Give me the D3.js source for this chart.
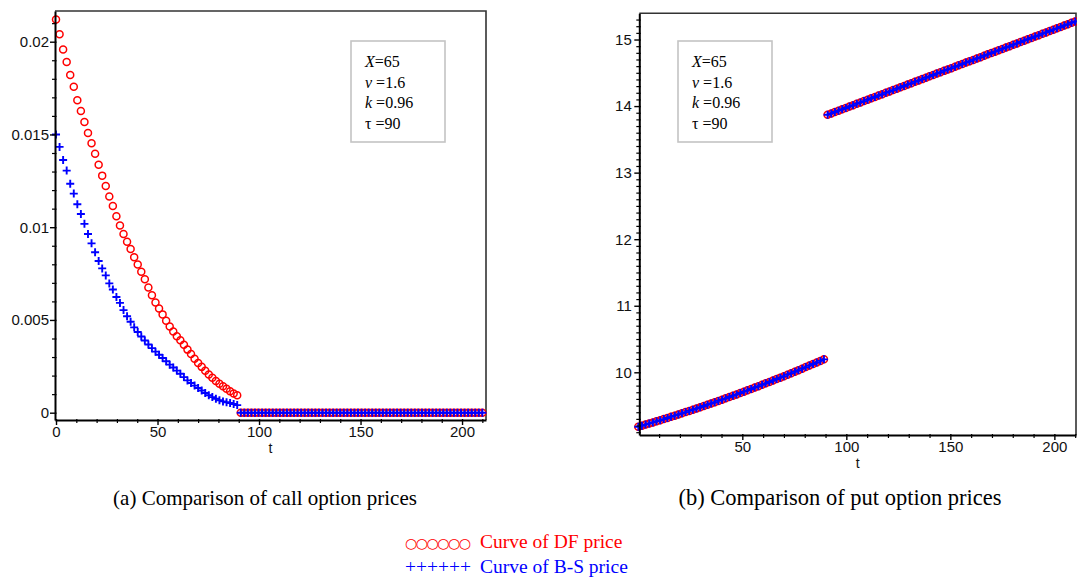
<!DOCTYPE html>
<html><head><meta charset="utf-8">
<script src="https://cdn.jsdelivr.net/npm/d3@7"></script>
<style>body{margin:0;background:#fff}svg{display:block}</style>
</head><body>
<svg id="c" width="1077" height="578"></svg>
<script>
// time grid (days)
const tValues = [0,1.75,3.5,5.25,7,8.75,10.5,12.25,14,15.75,17.5,19.25,21,22.75,24.5,26.25,28,29.75,31.5,33.25,35,36.75,38.5,40.25,42,43.75,45.5,47.25,49,50.75,52.5,54.25,56,57.75,59.5,61.25,63,64.75,66.5,68.25,70,71.75,73.5,75.25,77,78.75,80.5,82.25,84,85.75,87.5,89.25,91,92.75,94.5,96.25,98,99.75,101.5,103.25,105,106.75,108.5,110.25,112,113.75,115.5,117.25,119,120.75,122.5,124.25,126,127.75,129.5,131.25,133,134.75,136.5,138.25,140,141.75,143.5,145.25,147,148.75,150.5,152.25,154,155.75,157.5,159.25,161,162.75,164.5,166.25,168,169.75,171.5,173.25,175,176.75,178.5,180.25,182,183.75,185.5,187.25,189,190.75,192.5,194.25,196,197.75,199.5,201.25,203,204.75,206.5,208.25,210];

// (a) call option prices
const callDF = [0.0212,0.0204,0.01958,0.0189,0.0182,0.01757,0.01685,0.01626,0.01567,0.01508,0.01452,0.01396,0.01336,0.01278,0.01222,0.01166,0.01114,0.01059,0.01009,0.00963,0.00922,0.00882,0.00838,0.00799,0.0076,0.00719,0.00675,0.00633,0.00594,0.00562,0.0053,0.00496,0.00465,0.00438,0.00412,0.0039,0.00366,0.0034,0.00316,0.00291,0.00268,0.00247,0.00226,0.00206,0.00188,0.00171,0.00156,0.00142,0.00129,0.00115,0.00104,0.00094,
0,0,0,0,0,0,0,0,0,0, 0,0,0,0,0,0,0,0,0,0, 0,0,0,0,0,0,0,0,0,0, 0,0,0,0,0,0,0,0,0,0, 0,0,0,0,0,0,0,0,0,0, 0,0,0,0,0,0,0,0,0,0, 0,0,0,0,0,0,0,0,0];
const callBS = [0.015,0.01433,0.01362,0.01305,0.01234,0.01181,0.01124,0.01071,0.01018,0.00963,0.00913,0.00865,0.00818,0.00778,0.0074,0.00697,0.00664,0.00624,0.00592,0.00553,0.0052,0.0049,0.0046,0.00435,0.00411,0.00389,0.00368,0.00348,0.00329,0.00312,0.00295,0.00277,0.00259,0.00244,0.00227,0.0021,0.00192,0.00174,0.0016,0.00146,0.00133,0.0012,0.00106,0.00094,0.00084,0.00075,0.00067,0.00061,0.00056,0.00052,0.00047,0.00041,
0,0,0,0,0,0,0,0,0,0, 0,0,0,0,0,0,0,0,0,0, 0,0,0,0,0,0,0,0,0,0, 0,0,0,0,0,0,0,0,0,0, 0,0,0,0,0,0,0,0,0,0, 0,0,0,0,0,0,0,0,0,0, 0,0,0,0,0,0,0,0,0];

// (b) put option prices
const putDF = [9.182,9.198,9.214,9.230,9.247,9.264,9.280,9.297,9.314,9.332,9.349,9.366,9.384,9.402,9.420,9.438,9.457,9.475,9.494,9.512,9.531,9.550,9.570,9.589,9.609,9.628,9.648,9.668,9.688,9.709,9.729,9.750,9.771,9.792,9.813,9.834,9.855,9.877,9.899,9.920,9.942,9.965,9.987,10.009,10.032,10.055,10.078,10.101,10.124,10.148,10.171,10.195,
13.869,13.890,13.910,13.931,13.952,13.972,13.993,14.013,14.034,14.055,14.075,14.096,14.117,14.137,14.158,14.178,14.199,14.220,14.240,14.261,14.282,14.302,14.323,14.343,14.364,14.385,14.405,14.426,14.447,14.467,14.488,14.508,14.529,14.550,14.570,14.591,14.612,14.632,14.653,14.673,14.694,14.715,14.735,14.756,14.777,14.797,14.818,14.838,14.859,14.880,14.900,14.921,14.942,14.962,14.983,15.003,15.024,15.045,15.065,15.086,15.107,15.127,15.148,15.168,15.189,15.210,15.230,15.251,15.272];
const putBS = [9.182,9.198,9.214,9.230,9.247,9.264,9.280,9.297,9.314,9.332,9.349,9.366,9.384,9.402,9.420,9.438,9.457,9.475,9.494,9.512,9.531,9.550,9.570,9.589,9.609,9.628,9.648,9.668,9.688,9.709,9.729,9.750,9.771,9.792,9.813,9.834,9.855,9.877,9.899,9.920,9.942,9.965,9.987,10.009,10.032,10.055,10.078,10.101,10.124,10.148,10.171,10.195,
13.869,13.890,13.910,13.931,13.952,13.972,13.993,14.013,14.034,14.055,14.075,14.096,14.117,14.137,14.158,14.178,14.199,14.220,14.240,14.261,14.282,14.302,14.323,14.343,14.364,14.385,14.405,14.426,14.447,14.467,14.488,14.508,14.529,14.550,14.570,14.591,14.612,14.632,14.653,14.673,14.694,14.715,14.735,14.756,14.777,14.797,14.818,14.838,14.859,14.880,14.900,14.921,14.942,14.962,14.983,15.003,15.024,15.045,15.065,15.086,15.107,15.127,15.148,15.168,15.189,15.210,15.230,15.251,15.272];

// tick labels
const callXTicks = [0,50,100,150,200];
const callXMinor = [10,20,30,40,60,70,80,90,110,120,130,140,160,170,180,190,210];
const callYTicks = [0,0.005,0.01,0.015,0.02];
const callYLabels = ["0","0.005","0.01","0.015","0.02"];
const callYMinor = [0.001,0.002,0.003,0.004,0.006,0.007,0.008,0.009,0.011,0.012,0.013,0.014,0.016,0.017,0.018,0.019,0.021];
const putXTicks = [50,100,150,200];
const putXMinor = [10,20,30,40,60,70,80,90,110,120,130,140,160,170,180,190,210];
const putYTicks = [10,11,12,13,14,15];
const putYLabels = ["10","11","12","13","14","15"];
const putYMinor = [9.1,9.2,9.3,9.4,9.5,9.6,9.7,9.8,9.9,10.1,10.2,10.3,10.4,10.5,10.6,10.7,10.8,10.9,11.1,11.2,11.3,11.4,11.5,11.6,11.7,11.8,11.9,12.1,12.2,12.3,12.4,12.5,12.6,12.7,12.8,12.9,13.1,13.2,13.3,13.4,13.5,13.6,13.7,13.8,13.9,14.1,14.2,14.3,14.4,14.5,14.6,14.7,14.8,14.9,15.1,15.2,15.3];

const xTitle = "t";
const paramNames = ["X","ν","k","τ"];
const paramValues = ["=65"," =1.6"," =0.96"," =90"];
const captions = ["(a) Comparison of call option prices","(b) Comparison of put option prices"];
const legendSymbols = ["○○○○○○","++++++"];
const legendLabels = ["Curve of DF price","Curve of B-S price"];

const svg = d3.select("#c");
svg.append("rect").attr("width",1077).attr("height",578).attr("fill","#fff");

const RED = "#ff0000", BLUE = "#0000ff";
const sans = "'Liberation Sans', Arial, sans-serif";
const serif = "'Liberation Serif', 'Times New Roman', serif";

function panel(cfg){
  const x = d3.scaleLinear().domain(cfg.xd).range(cfg.xr);
  const y = d3.scaleLinear().domain(cfg.yd).range(cfg.yr);
  const g = svg.append("g");
  const [x0,x1] = cfg.xr, [yb,yt] = cfg.yr;
  // frame (top, right)
  g.append("path").attr("d",`M${x0},${yt}H${x1}V${yb}`).attr("fill","none").attr("stroke","#333").attr("stroke-width",1.6);

  // markers: DF circles then B-S plus
  const pts = g.append("g");
  pts.selectAll("circle").data(cfg.df).join("circle")
    .attr("cx",(d,i)=>x(tValues[i])).attr("cy",d=>y(d)).attr("r",3.5)
    .attr("fill","none").attr("stroke",RED).attr("stroke-width",1.5);
  pts.selectAll("path").data(cfg.bs).join("path")
    .attr("transform",(d,i)=>`translate(${x(tValues[i])},${y(d)})`)
    .attr("d","M-4,0H4M0,-4V4").attr("stroke",BLUE).attr("stroke-width",1.9);

  // minor ticks
  const xm = g.append("g").attr("transform",`translate(0,${yb})`)
    .call(d3.axisBottom(x).tickValues(cfg.xMinor).tickSize(3).tickFormat("").tickSizeOuter(0));
  xm.select(".domain").remove();
  xm.selectAll(".tick line").attr("y1",-1).attr("stroke","#000").attr("stroke-width",1.2);
  const ym = g.append("g").attr("transform",`translate(${x0},0)`)
    .call(d3.axisLeft(y).tickValues(cfg.yMinor).tickSize(3).tickFormat("").tickSizeOuter(0));
  ym.select(".domain").remove();
  ym.selectAll(".tick line").attr("x1",1.5).attr("stroke","#000").attr("stroke-width",1.2);

  // major axes
  const xa = g.append("g").attr("transform",`translate(0,${yb})`)
    .call(d3.axisBottom(x).tickValues(cfg.xTicks).tickSize(5).tickPadding(1).tickSizeOuter(0));
  const ya = g.append("g").attr("transform",`translate(${x0},0)`)
    .call(d3.axisLeft(y).tickValues(cfg.yTicks).tickSize(5).tickPadding(cfg.yPad)
      .tickFormat((d,i)=>cfg.yLabels[i]).tickSizeOuter(0));
  [xa,ya].forEach(a=>{
    a.attr("font-family",sans).attr("font-size",15);
    a.select(".domain").attr("stroke","#000").attr("stroke-width",2);
    a.selectAll(".tick line").attr("stroke","#000").attr("stroke-width",1.4);
    a.selectAll(".tick text").attr("fill","#111");
  });
  xa.selectAll(".tick line").attr("y1",-1);
  ya.selectAll(".tick line").attr("x1",1.5);

  // axis title
  g.append("text").attr("x",(x0+x1)/2).attr("y",yb+33).attr("text-anchor","middle")
    .attr("font-family",sans).attr("font-size",14).attr("fill","#111").text(xTitle);

  // parameter box
  const b = cfg.box;
  g.append("rect").attr("x",b[0]).attr("y",b[1]).attr("width",b[2]).attr("height",b[3])
    .attr("fill","#fff").attr("stroke","#c4c4c4").attr("stroke-width",1.6);
  paramNames.forEach((n,i)=>{
    const tx = g.append("text").attr("x",b[0]+14).attr("y",b[1]+26+i*20.5)
      .attr("font-family",serif).attr("font-size",16).attr("fill","#000");
    tx.append("tspan").attr("font-style", n==="τ" ? "normal" : "italic").text(n);
    tx.append("tspan").text(paramValues[i]);
  });

  // caption
  svg.append("text").attr("x",cfg.capX).attr("y",505).attr("text-anchor","middle")
    .attr("font-family",serif).attr("font-size",cfg.capSize).attr("fill","#000").text(cfg.caption);
}

panel({xd:[-0.5,211.8], xr:[55,486], yd:[-0.000394,0.021655], yr:[420,11],
  df:callDF, bs:callBS, xTicks:callXTicks, xMinor:callXMinor, yTicks:callYTicks, yLabels:callYLabels,
  yMinor:callYMinor, yPad:1, box:[351,41,94,101], caption:captions[0], capX:265, capSize:21});
panel({xd:[0.48,210.4], xr:[639.3,1076], yd:[9.058,15.394], yr:[435,13.3],
  df:putDF, bs:putBS, xTicks:putXTicks, xMinor:putXMinor, yTicks:putYTicks, yLabels:putYLabels,
  yMinor:putYMinor, yPad:2.5, box:[678,41,94,101], caption:captions[1], capX:840, capSize:22.5});

// legend
const colors = [RED, BLUE];
legendLabels.forEach((l,i)=>{
  const yy = 548 + i*25;
  svg.append("text").attr("x",405).attr("y",yy).attr("textLength",66).attr("lengthAdjust","spacing")
    .attr("font-family", i===0 ? "'DejaVu Sans', sans-serif" : serif)
    .attr("font-size", i===0 ? 14 : 19.5).attr("fill",colors[i]).text(legendSymbols[i]);
  svg.append("text").attr("x",480).attr("y",yy).attr("font-family",serif).attr("font-size",19.5)
    .attr("fill",colors[i]).text(l);
});
</script>
</body></html>
